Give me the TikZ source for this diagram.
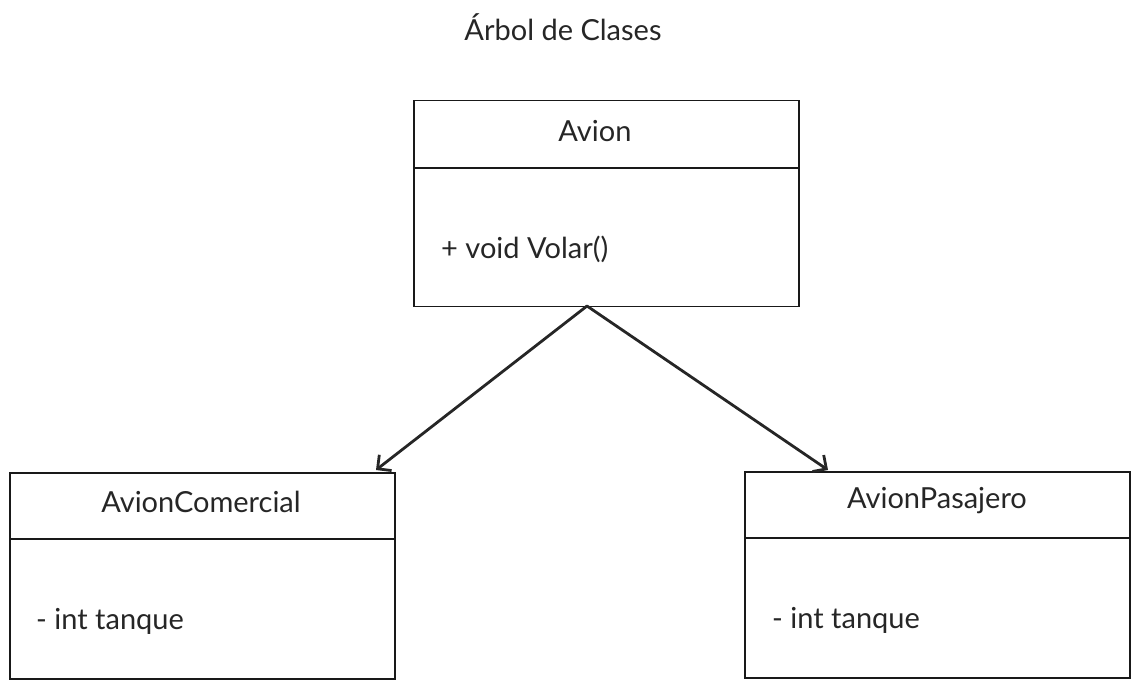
\documentclass[tikz,border=0pt]{standalone}
\usepackage{fontspec}
\setmainfont{Lato}
\usetikzlibrary{arrows.meta,positioning}
\tikzset{
    >={Straight Barb[length=10pt,width=20pt]},
    classbox/.style={draw=black!90,line width=1.1pt,rectangle,minimum width=385pt,minimum height=206pt,inner sep=0pt},
    cname/.style={font=\fontsize{29}{34}\selectfont,text=black!85,inner sep=0pt},
    member/.style={font=\fontsize{29}{34}\selectfont,text=black!85,anchor=west,inner sep=0pt},
    divider/.style={draw=black!90,line width=1.3pt},
    inherit/.style={->,draw=black!85,line width=2.8pt,line cap=round},
}
\begin{document}
\begin{tikzpicture}[x=1pt,y=-1pt]
    \useasboundingbox (0,0) rectangle (1141,689);

    % title
    \node[font=\fontsize{29}{34}\selectfont,text=black!85,inner sep=0pt] (title) at (563, 27) {Árbol de Clases};

    % classes
    \node[classbox] (avion)     at (606.5, 203.5) {};
    \node[classbox] (comercial) at (202.5, 576)   {};
    \node[classbox] (pasajero)  at (937.5, 575)   {};

    \draw[divider] (avion.west |- 0, 168)     -- (avion.east |- 0, 168);
    \draw[divider] (comercial.west |- 0, 539) -- (comercial.east |- 0, 539);
    \draw[divider] (pasajero.west |- 0, 538)  -- (pasajero.east |- 0, 538);

    \node[cname] (avion_name)     at (595, 131) {Avion};
    \node[cname] (comercial_name) at (201, 502) {AvionComercial};
    \node[cname] (pasajero_name)  at (937, 501) {AvionPasajero};

    \node[member] (avion_op)     at (441, 249) {+ void Volar()};
    \node[member] (comercial_at) at (36, 621)  {- int tanque};
    \node[member] (pasajero_at)  at (772, 620) {- int tanque};

    % inheritance
    \coordinate (fork)     at (587, 306);
    \coordinate (to_left)  at (376, 470);
    \coordinate (to_right) at (828, 470);
    \path (fork) edge[inherit] (to_left)
                 edge[inherit] (to_right);
\end{tikzpicture}
\end{document}
